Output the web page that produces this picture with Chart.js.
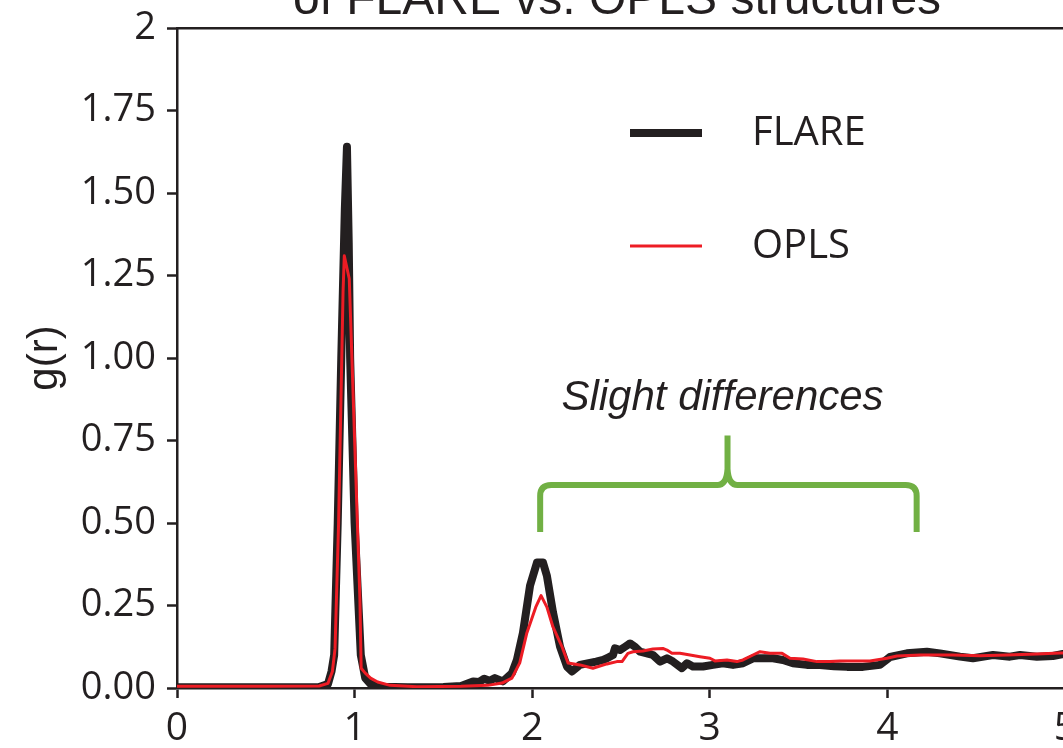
<!DOCTYPE html>
<html>
<head>
<meta charset="utf-8">
<script src="https://cdn.jsdelivr.net/npm/chart.js@4/dist/chart.umd.min.js"></script>
<style>
  html, body { margin: 0; padding: 0; width: 1063px; height: 748px; overflow: hidden; background: #ffffff; }
  #wrap { position: relative; width: 1063px; height: 748px; overflow: hidden; }
  #rdf { position: absolute; left: 0; top: -40px; }
</style>
</head>
<body>
<div id="wrap"><canvas id="rdf" width="1234" height="800"></canvas></div>
<script>
// Radial distribution function g(r), FLARE vs. OPLS
const titleText = 'of FLARE vs. OPLS structures';
const yAxisLabel = 'g(r)';
const seriesNames = ['FLARE', 'OPLS'];
const noteText = 'Slight differences';
const xTickValues = [0, 1, 2, 3, 4, 5];
const yTickValues = [0, 0.25, 0.5, 0.75, 1, 1.25, 1.5, 1.75, 2];

const flareR = [0, 0.3, 0.6, 0.8, 0.85, 0.87, 0.885, 0.905, 0.925, 0.945, 0.957, 0.967, 0.975, 1.0, 1.035, 1.06, 1.09, 1.15, 1.3, 1.5, 1.6, 1.667, 1.7, 1.73, 1.76, 1.79, 1.835, 1.886, 1.914, 1.948, 1.988, 2.027, 2.061, 2.083, 2.117, 2.157, 2.196, 2.224, 2.269, 2.325, 2.36, 2.399, 2.421, 2.455, 2.466, 2.494, 2.523, 2.551, 2.579, 2.607, 2.646, 2.68, 2.72, 2.759, 2.793, 2.843, 2.872, 2.905, 2.962, 3.018, 3.074, 3.131, 3.187, 3.243, 3.3, 3.356, 3.412, 3.468, 3.547, 3.62, 3.7, 3.773, 3.863, 3.958, 4.015, 4.11, 4.223, 4.296, 4.409, 4.482, 4.595, 4.69, 4.747, 4.842, 4.932, 4.989, 5.1, 5.2];
const flareG = [0.002, 0.002, 0.002, 0.003, 0.012, 0.05, 0.1, 0.5, 1.0, 1.45, 1.64, 1.35, 1.0, 0.5, 0.1, 0.03, 0.012, 0.004, 0.002, 0.003, 0.006, 0.02, 0.018, 0.028, 0.022, 0.03, 0.02, 0.045, 0.085, 0.167, 0.31, 0.38, 0.38, 0.34, 0.23, 0.125, 0.065, 0.05, 0.07, 0.076, 0.08, 0.085, 0.09, 0.1, 0.12, 0.115, 0.125, 0.135, 0.125, 0.11, 0.105, 0.1, 0.08, 0.09, 0.08, 0.06, 0.075, 0.065, 0.065, 0.07, 0.075, 0.07, 0.075, 0.09, 0.09, 0.09, 0.085, 0.075, 0.07, 0.07, 0.066, 0.064, 0.064, 0.07, 0.094, 0.105, 0.11, 0.105, 0.095, 0.09, 0.1, 0.095, 0.1, 0.095, 0.097, 0.103, 0.1, 0.102];

const oplsR = [0, 0.5, 0.8, 0.85, 0.875, 0.89, 0.91, 0.935, 0.942, 0.97, 1.03, 1.037, 1.06, 1.09, 1.13, 1.2, 1.35, 1.6, 1.75, 1.83, 1.886, 1.93, 1.97, 2.02, 2.05, 2.083, 2.117, 2.168, 2.202, 2.269, 2.342, 2.421, 2.438, 2.477, 2.506, 2.539, 2.568, 2.624, 2.68, 2.736, 2.759, 2.787, 2.832, 2.889, 2.945, 3.001, 3.029, 3.097, 3.153, 3.187, 3.243, 3.283, 3.339, 3.407, 3.452, 3.525, 3.604, 3.677, 3.733, 3.902, 3.998, 4.054, 4.184, 4.369, 4.521, 4.673, 4.842, 4.972, 5.1, 5.2];
const oplsG = [0.005, 0.005, 0.006, 0.014, 0.05, 0.12, 0.5, 1.2, 1.31, 1.24, 0.27, 0.06, 0.045, 0.03, 0.018, 0.008, 0.004, 0.005, 0.008, 0.015, 0.03, 0.076, 0.167, 0.245, 0.28, 0.245, 0.185, 0.125, 0.076, 0.07, 0.06, 0.073, 0.075, 0.08, 0.08, 0.105, 0.11, 0.112, 0.118, 0.12, 0.115, 0.105, 0.105, 0.1, 0.095, 0.09, 0.082, 0.085, 0.08, 0.085, 0.1, 0.11, 0.105, 0.105, 0.09, 0.088, 0.08, 0.08, 0.082, 0.082, 0.09, 0.097, 0.1, 0.1, 0.098, 0.1, 0.103, 0.106, 0.107, 0.108];

// Brace spanning the second-shell region (data units)
const braceFrom = 2.045, braceTo = 4.165, braceMid = 3.1;
const braceFoot = 0.473, braceBar = 0.615, braceTip = 0.765;

// Horizontal extent of the r axis (the plot continues past the visible edge)
const rMin = 0, rMax = 5.952;

const INK = '#231f20';
const GREEN = '#71b044';
const SANS = '"Open Sans", "Noto Sans", sans-serif';
const ARIAL = '"Liberation Sans", Arial, sans-serif';

const toPoints = (xs, ys) => xs.map((x, i) => ({ x: x, y: ys[i] }));

// Legend drawn inside the plot, line sample then label
const insetLegend = {
  id: 'insetLegend',
  afterDatasetsDraw(chart) {
    const { ctx, chartArea } = chart;
    const x0 = chartArea.left + 453, x1 = chartArea.left + 525;
    const tx = chartArea.left + 575;
    ctx.save();
    chart.data.datasets.forEach((ds, i) => {
      const y = chartArea.top + 105 + i * 113;
      ctx.strokeStyle = ds.borderColor;
      ctx.lineWidth = ds.borderWidth;
      ctx.lineCap = 'butt';
      ctx.beginPath();
      ctx.moveTo(x0, y);
      ctx.lineTo(x1, y);
      ctx.stroke();
      ctx.fillStyle = INK;
      ctx.font = '40px ' + SANS;
      ctx.textBaseline = 'middle';
      ctx.textAlign = 'left';
      ctx.fillText(ds.label, tx, y + 1);
    });
    ctx.restore();
  }
};

// Curly brace with its caption
const braceNote = {
  id: 'braceNote',
  afterDatasetsDraw(chart) {
    const { ctx } = chart;
    const xs = chart.scales.x, ys = chart.scales.y;
    const xa = xs.getPixelForValue(braceFrom);
    const xb = xs.getPixelForValue(braceTo);
    const xm = xs.getPixelForValue(braceMid);
    const yf = ys.getPixelForValue(braceFoot);
    const yb = ys.getPixelForValue(braceBar);
    const yt = ys.getPixelForValue(braceTip);
    const rc = 11;
    ctx.save();
    ctx.strokeStyle = GREEN;
    ctx.lineWidth = 6;
    ctx.lineCap = 'butt';
    ctx.lineJoin = 'round';
    ctx.beginPath();
    ctx.moveTo(xa, yf);
    ctx.lineTo(xa, yb + rc);
    ctx.quadraticCurveTo(xa, yb, xa + rc, yb);
    ctx.lineTo(xm - 10, yb);
    ctx.quadraticCurveTo(xm - 1, yb, xm, yb - 16);
    ctx.lineTo(xm, yt);
    ctx.moveTo(xm, yb - 16);
    ctx.quadraticCurveTo(xm + 1, yb, xm + 10, yb);
    ctx.lineTo(xb - rc, yb);
    ctx.quadraticCurveTo(xb, yb, xb, yb + rc);
    ctx.lineTo(xb, yf);
    ctx.stroke();
    ctx.fillStyle = INK;
    ctx.font = 'italic 42px ' + ARIAL;
    ctx.textAlign = 'center';
    ctx.textBaseline = 'alphabetic';
    ctx.fillText(noteText, xm - 5, yt - 26);
    ctx.restore();
  }
};

const tickGrid = {
  display: true,
  drawOnChartArea: false,
  drawTicks: true,
  tickLength: 10,
  tickWidth: 2.5,
  tickColor: INK
};

new Chart(document.getElementById('rdf'), {
  type: 'line',
  data: {
    datasets: [
      {
        label: seriesNames[0],
        data: toPoints(flareR, flareG),
        borderColor: INK,
        borderWidth: 8,
        pointRadius: 0,
        tension: 0,
        borderJoinStyle: 'round',
        borderCapStyle: 'round',
        order: 2
      },
      {
        label: seriesNames[1],
        data: toPoints(oplsR, oplsG),
        borderColor: '#ed1c24',
        borderWidth: 3,
        pointRadius: 0,
        tension: 0,
        borderJoinStyle: 'round',
        order: 1
      }
    ]
  },
  options: {
    responsive: false,
    animation: false,
    devicePixelRatio: 1,
    layout: { padding: { left: 0, right: 0, top: 0, bottom: 0 } },
    plugins: {
      legend: { display: false },
      tooltip: { enabled: false },
      title: {
        display: true,
        text: titleText,
        color: INK,
        font: { family: ARIAL, size: 48, weight: 'normal', lineHeight: 1.1 },
        padding: { top: 14.7, bottom: 0.5 }
      }
    },
    scales: {
      x: {
        type: 'linear',
        position: 'bottom',
        min: rMin,
        max: rMax,
        afterFit(scale) { scale.height = 72; },
        afterBuildTicks(scale) { scale.ticks = xTickValues.map(v => ({ value: v })); },
        grid: tickGrid,
        border: { display: true, color: INK, width: 2.5 },
        ticks: {
          color: INK,
          padding: 7,
          font: { family: SANS, size: 39 },
          callback: v => String(v)
        }
      },
      xTop: {
        type: 'linear',
        position: 'top',
        min: rMin,
        max: rMax,
        afterFit(scale) { scale.height = 0; },
        grid: { display: true, drawOnChartArea: false, drawTicks: false },
        border: { display: true, color: INK, width: 2.5 },
        ticks: { display: false }
      },
      y: {
        type: 'linear',
        min: 0,
        max: 2,
        afterFit(scale) { scale.width = 177; },
        afterBuildTicks(scale) { scale.ticks = yTickValues.map(v => ({ value: v })); },
        grid: tickGrid,
        border: { display: true, color: INK, width: 2.5 },
        title: {
          display: true,
          text: yAxisLabel,
          color: INK,
          font: { family: ARIAL, size: 42 },
          padding: { top: 20, bottom: 0 }
        },
        ticks: {
          color: INK,
          padding: 11,
          font: { family: SANS, size: 38 },
          callback: v => (v === 2 ? '2' : v.toFixed(2))
        }
      }
    }
  },
  plugins: [insetLegend, braceNote]
});
</script>
</body>
</html>
